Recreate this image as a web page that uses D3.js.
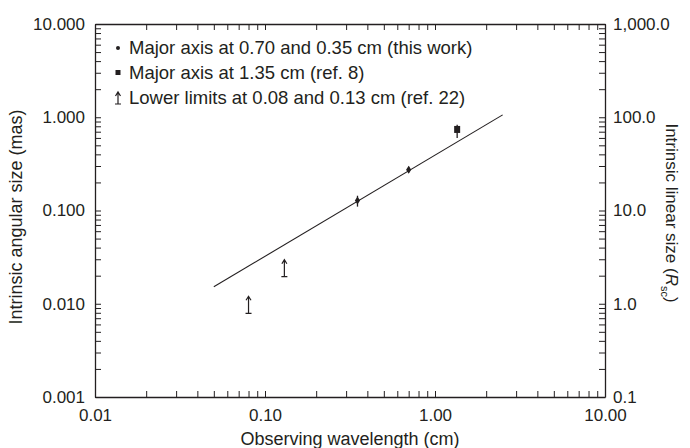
<!doctype html>
<html>
<head>
<meta charset="utf-8">
<script src="https://d3js.org/d3.v7.min.js"></script>
<style>
  body { margin: 0; background: #fff; }
  text { font-family: "Liberation Sans", Arial, sans-serif; fill: #231f20; }
</style>
</head>
<body>
<div id="chart"></div>
<script>
// this work: major axis at 0.70 and 0.35 cm
var thisX = [0.70, 0.35];
var thisY = [0.274, 0.128];
var thisLo = [0.255, 0.110];
var thisHi = [0.295, 0.144];

// ref. 8: major axis at 1.35 cm
var refX = [1.35];
var refY = [0.74];
var refLo = [0.60];
var refHi = [0.83];

// ref. 22: lower limits
var limX = [0.08, 0.13];
var limY = [0.0079, 0.0195];

// fitted line
var fitX = [0.05, 2.5];
var fitY = [0.0152, 1.06];

var xTicks = [0.01, 0.1, 1, 10];
var xTickLabels = ["0.01", "0.10", "1.00", "10.00"];
var yTicks = [0.001, 0.01, 0.1, 1, 10];
var yTickLabels = ["0.001", "0.010", "0.100", "1.000", "10.000"];
var y2Ticks = [0.1, 1, 10, 100, 1000];
var y2TickLabels = ["0.1", "1.0", "10.0", "100.0", "1,000.0"];

var legendLabels = [
  "Major axis at 0.70 and 0.35 cm (this work)",
  "Major axis at 1.35 cm (ref. 8)",
  "Lower limits at 0.08 and 0.13 cm (ref. 22)"
];

var W = 690, H = 448;
var margin = {top: 24, right: 85, bottom: 51, left: 95};
var width = W - margin.left - margin.right, height = H - margin.top - margin.bottom;
var ink = "#231f20";

var svg = d3.select("#chart").append("svg").attr("width", W).attr("height", H);
var g = svg.append("g").attr("transform", "translate(" + margin.left + "," + margin.top + ")");

var x = d3.scaleLog().domain([0.01, 10]).range([0, width]);
var y = d3.scaleLog().domain([0.001, 10]).range([height, 0]);
var y2 = d3.scaleLog().domain([0.1, 1000]).range([height, 0]);

function minorTicks(scale) {
  var d = scale.domain(), out = [];
  for (var e = Math.log10(d[0]); e < Math.log10(d[1]); e++) {
    for (var k = 2; k <= 9; k++) out.push(k * Math.pow(10, e));
  }
  return out;
}

var tk = 6;
function frame(sel) {
  sel.select(".domain").attr("stroke", ink).attr("stroke-width", 1.3);
  sel.selectAll(".tick line").attr("stroke", ink).attr("stroke-width", 1);
}

// bottom / top
var xb = g.append("g").attr("transform", "translate(0," + height + ")")
  .call(d3.axisBottom(x).tickValues(xTicks.concat(minorTicks(x))).tickSizeInner(-tk).tickSizeOuter(0)
    .tickFormat(function(d) { var i = xTicks.indexOf(d); return i >= 0 ? xTickLabels[i] : ""; }));
xb.selectAll(".tick text").attr("y", 12).attr("font-size", 17).attr("dy", "0.71em");
frame(xb);
var xt = g.append("g")
  .call(d3.axisTop(x).tickValues(xTicks.concat(minorTicks(x))).tickSizeInner(-tk).tickSizeOuter(0).tickFormat(""));
frame(xt);

// left / right
var yl = g.append("g")
  .call(d3.axisLeft(y).tickValues(yTicks.concat(minorTicks(y))).tickSizeInner(-tk).tickSizeOuter(0)
    .tickFormat(function(d) { var i = yTicks.indexOf(d); return i >= 0 ? yTickLabels[i] : ""; }));
yl.selectAll(".tick text").attr("x", -10).attr("font-size", 17);
frame(yl);
var yr = g.append("g").attr("transform", "translate(" + width + ",0)")
  .call(d3.axisRight(y2).tickValues(y2Ticks.concat(minorTicks(y2))).tickSizeInner(-tk).tickSizeOuter(0)
    .tickFormat(function(d) { var i = y2Ticks.indexOf(d); return i >= 0 ? y2TickLabels[i] : ""; }));
yr.selectAll(".tick text").attr("x", 8).attr("font-size", 17);
frame(yr);
g.selectAll(".tick text").style("fill", ink);

// axis titles
svg.append("text").attr("x", margin.left + width / 2).attr("y", 445)
  .attr("text-anchor", "middle").attr("font-size", 18).text("Observing wavelength (cm)");
svg.append("text").attr("transform", "translate(22,217) rotate(-90)")
  .attr("text-anchor", "middle").attr("font-size", 18).text("Intrinsic angular size (mas)");
var rt = svg.append("text").attr("transform", "translate(666,213) rotate(90)")
  .attr("text-anchor", "middle").attr("font-size", 17);
rt.append("tspan").text("Intrinsic linear size (");
rt.append("tspan").attr("font-style", "italic").text("R");
rt.append("tspan").attr("font-size", 11).attr("dy", 5).text("sc");
rt.append("tspan").attr("dy", -5).text(")");

// fit line
g.append("line")
  .attr("x1", x(fitX[0])).attr("y1", y(fitY[0]))
  .attr("x2", x(fitX[1])).attr("y2", y(fitY[1]))
  .attr("stroke", ink).attr("stroke-width", 1.1);

// this work: error bars + diamonds
thisX.forEach(function(d, i) {
  g.append("line").attr("x1", x(d)).attr("x2", x(d))
    .attr("y1", y(thisLo[i])).attr("y2", y(thisHi[i]))
    .attr("stroke", ink).attr("stroke-width", 1.3);
  var cx = x(d), cy = y(thisY[i]);
  g.append("path").attr("d", "M" + cx + "," + (cy - 4) + "L" + (cx + 2.6) + "," + cy + "L" + cx + "," + (cy + 4) + "L" + (cx - 2.6) + "," + cy + "Z")
    .attr("fill", ink);
});

// ref. 8: error bar + square
refX.forEach(function(d, i) {
  g.append("line").attr("x1", x(d)).attr("x2", x(d))
    .attr("y1", y(refLo[i])).attr("y2", y(refHi[i]))
    .attr("stroke", ink).attr("stroke-width", 1.3);
  g.append("rect").attr("x", x(d) - 3).attr("y", y(refY[i]) - 3.5)
    .attr("width", 6).attr("height", 7).attr("fill", ink);
});

// lower limit arrows
function limitArrow(sel, cx, cy, len) {
  sel.append("path")
    .attr("d", "M" + (cx - 3) + "," + cy + "H" + (cx + 3) +
      "M" + cx + "," + cy + "V" + (cy - len) +
      "M" + (cx - 2.5) + "," + (cy - len + 4) + "L" + cx + "," + (cy - len) + "L" + (cx + 2.5) + "," + (cy - len + 4))
    .attr("fill", "none").attr("stroke", ink).attr("stroke-width", 1.2);
}
limX.forEach(function(d, i) { limitArrow(g, x(d), y(limY[i]), 17); });

// legend
var lg = svg.append("g");
var rowY = [48, 73, 98];
legendLabels.forEach(function(t, i) {
  lg.append("text").attr("x", 129).attr("y", rowY[i]).attr("dy", "0.35em")
    .attr("font-size", 18.5).text(t);
});
lg.append("circle").attr("cx", 118).attr("cy", rowY[0]).attr("r", 2).attr("fill", ink);
lg.append("rect").attr("x", 115.5).attr("y", rowY[1] - 3).attr("width", 5).attr("height", 5).attr("fill", ink);
limitArrow(lg, 118, rowY[2] + 6, 12);
</script>
</body>
</html>
